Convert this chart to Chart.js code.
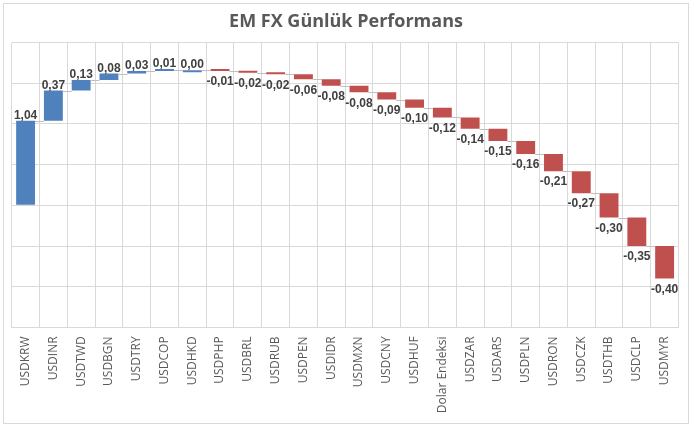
<!DOCTYPE html>
<html><head><meta charset="utf-8">
<script src="https://cdn.jsdelivr.net/npm/chart.js@4"></script>
<style>html,body{margin:0;padding:0;background:#fff}#wrap{width:692px;height:428px}</style>
</head><body><div id="wrap"><canvas id="c" width="692" height="428"></canvas></div>
<script>
const categories = ["USDKRW","USDINR","USDTWD","USDBGN","USDTRY","USDCOP","USDHKD","USDPHP","USDBRL","USDRUB","USDPEN","USDIDR","USDMXN","USDCNY","USDHUF","Dolar Endeksi","USDZAR","USDARS","USDPLN","USDRON","USDCZK","USDTHB","USDCLP","USDMYR"];
const changes = [1.04,0.37,0.13,0.08,0.03,0.01,0.00,-0.01,-0.02,-0.02,-0.06,-0.08,-0.08,-0.09,-0.10,-0.12,-0.14,-0.15,-0.16,-0.21,-0.27,-0.30,-0.35,-0.40];
const titleText = "EM FX Günlük Performans";

const floating = [];
let cum = 0;
changes.forEach(v => { floating.push([cum, cum + v]); cum += v; });
const colors = changes.map(v => v >= 0 ? '#4F81BD' : '#C0504D');

const fmt = v => v.toFixed(2).replace('.', ',');

const deco = {
  id: 'deco',
  beforeDraw(chart) {
    const ctx = chart.ctx;
    ctx.save();
    ctx.fillStyle = '#fff';
    ctx.fillRect(0, 0, chart.width, chart.height);
    ctx.strokeStyle = '#d9d9d9';
    ctx.lineWidth = 1;
    ctx.strokeRect(3.5, 3.5, 685, 420);
    ctx.fillStyle = '#595959';
    ctx.font = 'bold 18px "Open Sans"';
    ctx.textAlign = 'center';
    ctx.textBaseline = 'middle';
    ctx.fillText(titleText, 346, 22);
    ctx.restore();
  },
  afterDatasetsDraw(chart) {
    const ctx = chart.ctx;
    const meta = chart.getDatasetMeta(0);
    const y = chart.scales.y;
    ctx.save();
    ctx.strokeStyle = '#bfbfbf';
    ctx.lineWidth = 1;
    for (let i = 0; i < meta.data.length - 1; i++) {
      const a = meta.data[i], b = meta.data[i + 1];
      const yy = Math.round(y.getPixelForValue(floating[i][1])) + 0.5;
      ctx.beginPath();
      ctx.moveTo(a.x + a.width / 2, yy);
      ctx.lineTo(b.x - b.width / 2, yy);
      ctx.stroke();
    }
    ctx.fillStyle = '#404040';
    ctx.font = 'bold 12px "Liberation Sans"';
    ctx.textAlign = 'center';
    meta.data.forEach((bar, i) => {
      const v = changes[i];
      const top = Math.min(bar.y, bar.base), bot = Math.max(bar.y, bar.base);
      if (v >= 0) {
        ctx.textBaseline = 'alphabetic';
        ctx.fillText(fmt(v), bar.x, top - 2);
      } else {
        ctx.textBaseline = 'top';
        ctx.fillText(fmt(v), bar.x, bot + 5);
      }
    });
    ctx.restore();
  }
};

new Chart(document.getElementById('c'), {
  type: 'bar',
  data: {
    labels: categories,
    datasets: [{
      data: floating,
      backgroundColor: colors,
      borderWidth: 0,
      borderSkipped: false,
      categoryPercentage: 1,
      barPercentage: 0.68,
      minBarLength: 2
    }]
  },
  options: {
    responsive: false,
    animation: false,
    devicePixelRatio: 1,
    layout: { padding: { left: 11.7, right: 13.5, top: 42.6, bottom: 0 } },
    plugins: { legend: { display: false }, tooltip: { enabled: false }, title: { display: false } },
    scales: {
      x: {
        offset: true,
        grid: { offset: true, color: '#d9d9d9', drawTicks: false },
        border: { color: '#d9d9d9' },
        ticks: {
          color: '#595959', font: { family: 'Open Sans', size: 12 },
          minRotation: 90, maxRotation: 90, autoSkip: false, padding: 9
        },
        afterFit(s) { s.height = 100.6; }
      },
      y: {
        min: -1.5, max: 2,
        ticks: { display: false, stepSize: 0.5 },
        grid: { color: '#d9d9d9', drawTicks: false },
        border: { display: false },
        afterFit(s) { s.width = 0; }
      }
    }
  },
  plugins: [deco]
});
</script></body></html>
